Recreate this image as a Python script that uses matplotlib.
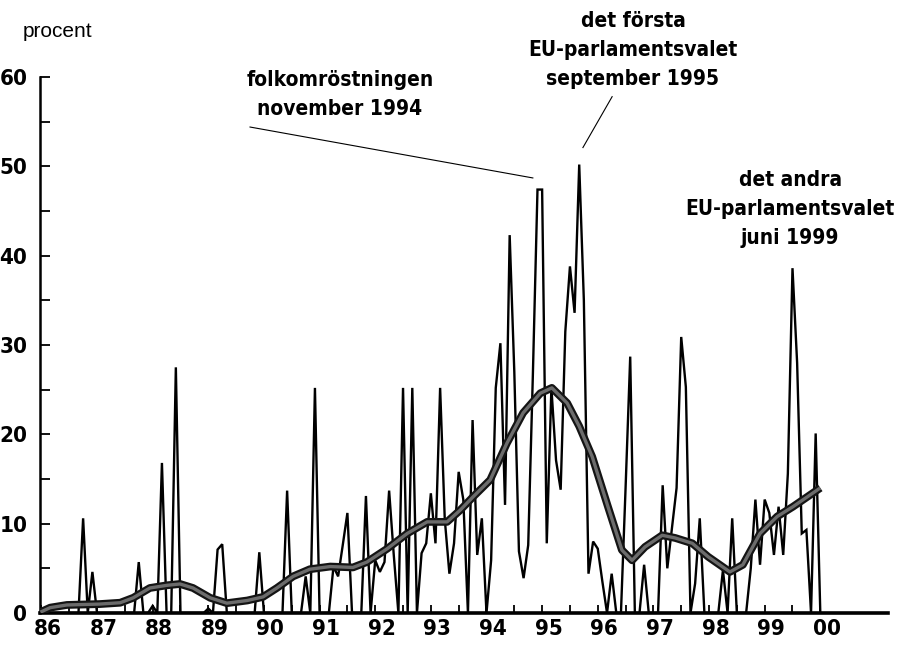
import os
import numpy as np
import matplotlib
matplotlib.use('Agg')
import matplotlib.pyplot as plt
from matplotlib import font_manager
from matplotlib.font_manager import FontProperties


def pick_narrow_bold():
    # leta efter en smal/kondenserad fet stil bland installerade typsnitt
    files = [f.fname for f in font_manager.fontManager.ttflist]
    prefs = ['LiberationSansNarrow-Bold.', 'DejaVuSansCondensed-Bold.',
             'NotoSans-CondensedBold.', 'RobotoCondensed-Bold.', 'Roboto-CondensedBold.',
             'OpenSans-CondensedBold.', 'OpenSans_Condensed-Bold.']
    for p in prefs:
        for f in files:
            if os.path.basename(f).startswith(p):
                return f
    for f in files:
        b = os.path.basename(f).lower()
        if ('condensed' in b or 'narrow' in b) and 'bold' in b and not any(
                w in b for w in ['semi', 'extra', 'italic', 'oblique', 'black']):
            return f
    return None


NARROW_FILE = pick_narrow_bold()
if NARROW_FILE:
    def bold_font(size):
        return FontProperties(fname=NARROW_FILE, size=size)
    TICK_SIZE, ANN_SIZE = 16, 15
else:
    def bold_font(size):
        return FontProperties(family='Liberation Sans', weight='bold', size=size)
    TICK_SIZE, ANN_SIZE = 15, 13.5

# Månadsvärden jan 1986 - dec 1999 (procent)
spikes = [0, 0, 0, 0, 0, 0, 0, 0, 10.6, 0, 4.6, 0,
          0, 0, 0, 0, 0, 0, 0, 0, 5.7, 0, 0, 0.8,
          0, 16.8, 0, 0, 27.5, 0, 0, 0, 0, 0, 0, 0.5,
          0, 7.1, 7.7, 0, 0, 0, 0, 0, 0, 0, 6.8, 0,
          0, 0, 0, 0, 13.7, 0, 0, 0, 4.1, 0, 25.2, 0,
          0, 0, 5.2, 4.1, 7.6, 11.2, 0, 0, 0, 13.1, 0, 5.9,
          4.6, 5.7, 13.7, 6.5, 0, 25.2, 0, 25.2, 0, 6.7, 7.8, 13.4,
          7.8, 25.2, 10.5, 4.4, 7.8, 15.8, 12.7, 0, 21.6, 6.5, 10.6, 0,
          5.9, 25.2, 30.2, 12.1, 42.3, 27.0, 6.9, 3.9, 7.6, 26.6, 47.4, 47.4,
          7.8, 25.2, 17.1, 13.8, 31.5, 38.8, 33.6, 50.2, 35.0, 4.4, 8.0, 7.2,
          3.5, 0, 4.4, 0, 0, 14.0, 28.7, 0, 0, 5.4, 0, 0,
          0, 14.3, 5.0, 9.5, 14.0, 30.9, 25.3, 0, 3.3, 10.6, 0, 0,
          0, 0, 4.8, 0, 10.6, 0, 0, 0, 5.0, 12.7, 5.4, 12.7,
          11.2, 6.5, 11.9, 6.5, 15.6, 38.6, 28.0, 8.9, 9.3, 0, 20.1, 0]
months = np.arange(len(spikes))

# Utjämnad trend (avläst i punkter, månadsindex -> procent)
trend_month = [-1.2, 0.9, 4.5, 11.6, 16.0, 18.8, 22.4, 26.1, 28.9, 31.7, 35.4, 39.0,
               43.4, 46.8, 49.8, 53.3, 56.9, 61.3, 66.2, 69.2, 73.6, 77.9, 82.2, 86.5,
               89.3, 92.1, 95.8, 99.4, 102.9, 106.6, 109.1, 112.4, 115.0, 117.8, 121.2,
               124.2, 126.4, 129.2, 132.9, 135.7, 139.4, 142.8, 147.5, 150.3, 154.0,
               157.7, 161.1, 167.0]
trend_value = [0.1, 0.6, 0.9, 1.0, 1.15, 1.7, 2.8, 3.1, 3.25, 2.8, 1.7, 1.1,
               1.4, 1.8, 2.8, 4.1, 4.9, 5.2, 5.1, 5.7, 7.2, 8.9, 10.2, 10.2,
               11.5, 13.0, 14.9, 19.0, 22.4, 24.6, 25.2, 23.5, 20.9, 17.5, 11.9,
               7.05, 5.9, 7.4, 8.7, 8.4, 7.8, 6.3, 4.6, 5.4, 8.9,
               10.8, 11.9, 14.0]

year_labels = ['86', '87', '88', '89', '90', '91', '92', '93', '94', '95', '96', '97', '98', '99', '00']
y_labels = ['0', '10', '20', '30', '40', '50', '60']

fig = plt.figure(figsize=(9.02, 6.46), dpi=100)
ax = fig.add_axes([40 / 902, 33 / 646, 848 / 902, 536 / 646])

ax.plot(months, spikes, color='black', linewidth=1.7, solid_joinstyle='miter', zorder=3)
ax.plot(trend_month, trend_value, color='#141414', linewidth=5.6, solid_capstyle='butt', zorder=4)
ax.plot(trend_month, trend_value, color='#6c6c6c', linewidth=2.4, solid_capstyle='butt', zorder=5)

ax.set_xlim(-1.3, 181.6)
ax.set_ylim(0, 60)

for side in ['top', 'right']:
    ax.spines[side].set_visible(False)
ax.spines['left'].set_linewidth(1.8)
ax.spines['bottom'].set_linewidth(2.6)

# y-axel
ax.set_yticks(np.arange(0, 61, 10))
ax.set_yticks(np.arange(5, 60, 10), minor=True)
ax.tick_params(axis='y', which='both', direction='in', length=7, width=1.3, pad=9)
ax.set_yticklabels(y_labels, fontproperties=bold_font(TICK_SIZE))

# x-axel: etiketter vid januari, streck varje halvår
ax.set_xticks([12 * k + 0.4 for k in range(len(year_labels))])
ax.set_xticklabels(year_labels, fontproperties=bold_font(TICK_SIZE))
ax.set_xticks([6 * j - 1 for j in range(29)], minor=True)
ax.tick_params(axis='x', which='major', length=0, pad=4)
ax.tick_params(axis='x', which='minor', direction='in', length=6, width=1.3)

ax.text(-5.0, 65.1, 'procent', fontsize=15, family='Liberation Sans',
        ha='left', va='center', clip_on=False)

ann = dict(fontproperties=bold_font(ANN_SIZE), ha='center', va='center',
           linespacing=1.55, clip_on=False)
ax.text(63.4, 58.0, 'folkomröstningen\nnovember 1994', **ann)
ax.text(126.6, 63.0, 'det första\nEU-parlamentsvalet\nseptember 1995', **ann)
ax.text(160.5, 45.2, 'det andra\nEU-parlamentsvalet\njuni 1999', **ann)

ax.plot([44.0, 105.0], [54.4, 48.7], color='black', linewidth=0.8, clip_on=False)
ax.plot([122.1, 115.8], [57.8, 52.1], color='black', linewidth=0.8, clip_on=False)

fig.savefig('out.png', dpi=100)
